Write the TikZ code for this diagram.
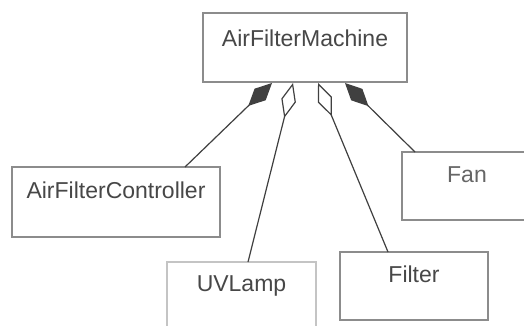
\documentclass[tikz,border=0pt]{standalone}
\usepackage{fontspec}
\setmainfont{Liberation Sans}
\usetikzlibrary{arrows.meta}
\definecolor{edgegray}{HTML}{8C8C8C}
\definecolor{lightedge}{HTML}{C4C4C4}
\definecolor{txtgray}{HTML}{474747}
\begin{document}
\begin{tikzpicture}[x=1pt,y=-1pt,
  classbox/.style={draw=edgegray, line width=1.6pt, rectangle, inner sep=0pt},
  classname/.style={anchor=base, text=txtgray, inner sep=0pt, font=\fontsize{23}{26}\selectfont},
  conn/.style={draw=black!75, line width=1.2pt},
  comp/.style={conn, {Diamond[length=33pt,width=16pt]}-},
  aggr/.style={conn, {Diamond[open,length=36pt,width=15pt,fill=white]}-}
]
\useasboundingbox (0,0) rectangle (524,326);
\clip (0,0) rectangle (524,326);
\fill[white] (0,0) rectangle (524,326);

% boxes
\node[classbox, minimum width=204pt, minimum height=69pt] (m) at (305,47.5) {};
\node[classbox, minimum width=208pt, minimum height=70pt] (c) at (116,202) {};
\node[classbox, draw=lightedge, line width=2.4pt, minimum width=149pt, minimum height=80pt] (u) at (241.5,302) {};
\node[classbox, minimum width=148pt, minimum height=68pt] (f) at (414,286) {};
\node[classbox, minimum width=130pt, minimum height=68pt] (n) at (467,186) {};

% labels
\node[classname] (mt) at ([yshift=-34pt]m.north) {AirFilterMachine};
\node[classname] (ct) at ([yshift=-32pt]c.north) {AirFilterController};
\node[classname] (ut) at ([yshift=-31pt]u.north) {UVLamp};
\node[classname] (ft) at ([yshift=-31pt]f.north) {Filter};
\node[classname, text=black!60] (nt) at ([yshift=-31pt]n.north) {Fan};

% attachment points
\coordinate (m1) at (272,83);
\coordinate (m2) at (293,83);
\coordinate (m3) at (318,83);
\coordinate (m4) at (345,83);
\coordinate (c1) at (185,167);
\coordinate (u1) at (248,262);
\coordinate (f1) at (388,252);
\coordinate (n1) at (415,152);

% connectors
\draw[comp] (m1) -- (c1);
\draw[aggr] (m2) -- (u1);
\draw[aggr] (m3) -- (f1);
\draw[comp] (m4) -- (n1);
\end{tikzpicture}
\end{document}
